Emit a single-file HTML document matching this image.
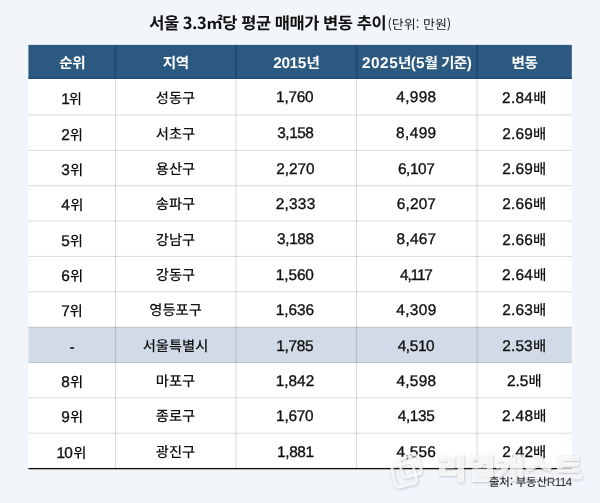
<!DOCTYPE html>
<html lang="ko"><head><meta charset="utf-8"><title>서울 3.3㎡당 평균 매매가 변동 추이</title>
<style>
html,body{margin:0;padding:0;}
body{text-rendering:geometricPrecision;width:600px;height:503px;background:#f2f5fa;position:relative;overflow:hidden;font-family:"Liberation Sans","Noto Sans CJK KR",sans-serif;color:#111;}
.abs{position:absolute;}
.tb{left:149.2px;top:8px;height:28px;line-height:28px;white-space:nowrap;font-family:"Noto Sans CJK KR","Liberation Sans",sans-serif;font-size:16.5px;font-weight:700;letter-spacing:-0.46px;color:#111;}
.tu{left:387.5px;top:10.3px;height:28px;line-height:28px;white-space:nowrap;font-family:"Noto Sans CJK KR","Liberation Sans",sans-serif;font-size:13px;letter-spacing:-0.02px;color:#222;}
.cell{text-align:center;white-space:nowrap;font-family:"Noto Sans CJK KR","Liberation Sans",sans-serif;}
.n{font-family:"Liberation Sans",sans-serif;}

.h{color:#fff;font-weight:700;font-size:14.6px;letter-spacing:-0.55px;}
.h .n{font-size:15.4px;letter-spacing:0;}
.d{color:#111;font-size:14.3px;letter-spacing:0px;font-weight:500;}
.d .n{font-size:15.4px;letter-spacing:0;font-weight:400;-webkit-text-stroke:0.35px #111;}
#ft .n{font-size:12px;letter-spacing:-0.8px;}
.hl{background:#d1dbe9;}
.hline{height:1px;background:#dcdcdc;}
.vline{width:1px;background:#e2e2e2;}
</style></head><body>

<div class="abs tb" id="tb">서울 3.3㎡당 평균 매매가 변동 추이</div><div class="abs tu" id="tu">(단위: 만원)</div>
<svg class="abs" width="600" height="503" viewBox="0 0 600 503" style="left:0;top:0"><rect x="28.4" y="44.9" width="543.40" height="423.70" fill="#fff"/><rect x="28.4" y="44.9" width="543.40" height="34.10" fill="#2c597f"/><rect x="28.4" y="77.40" width="543.40" height="1.6" fill="#214d75"/><rect x="28.4" y="327.16" width="543.40" height="35.36" fill="#d1dbe8"/><rect x="28.4" y="114.50" width="543.40" height="1" fill="#000" fill-opacity="0.14"/><rect x="28.4" y="149.86" width="543.40" height="1" fill="#000" fill-opacity="0.14"/><rect x="28.4" y="185.22" width="543.40" height="1" fill="#000" fill-opacity="0.14"/><rect x="28.4" y="220.58" width="543.40" height="1" fill="#000" fill-opacity="0.14"/><rect x="28.4" y="255.94" width="543.40" height="1" fill="#000" fill-opacity="0.14"/><rect x="28.4" y="291.30" width="543.40" height="1" fill="#000" fill-opacity="0.14"/><rect x="28.4" y="326.66" width="543.40" height="1" fill="#000" fill-opacity="0.16"/><rect x="28.4" y="362.02" width="543.40" height="1" fill="#000" fill-opacity="0.16"/><rect x="28.4" y="397.38" width="543.40" height="1" fill="#000" fill-opacity="0.14"/><rect x="28.4" y="432.74" width="543.40" height="1" fill="#000" fill-opacity="0.14"/><rect x="114.90" y="79.00" width="1.2" height="389.60" fill="#000" fill-opacity="0.13"/><rect x="114.60" y="44.9" width="1.8" height="34.10" fill="#1f4a72"/><rect x="235.40" y="79.00" width="1.2" height="389.60" fill="#000" fill-opacity="0.13"/><rect x="235.10" y="44.9" width="1.8" height="34.10" fill="#1f4a72"/><rect x="355.90" y="79.00" width="1.2" height="389.60" fill="#000" fill-opacity="0.13"/><rect x="355.60" y="44.9" width="1.8" height="34.10" fill="#1f4a72"/><rect x="476.60" y="79.00" width="1.2" height="389.60" fill="#000" fill-opacity="0.13"/><rect x="476.30" y="44.9" width="1.8" height="34.10" fill="#1f4a72"/><rect x="28.4" y="467.95" width="543.40" height="1.35" fill="#111"/></svg>
<div class="abs cell h" style="left:28.70px;top:45.90px;width:87.1px;height:34.10px;line-height:34.10px">순위</div>
<div class="abs cell h" style="left:115.50px;top:45.90px;width:120.5px;height:34.10px;line-height:34.10px">지역</div>
<div class="abs cell h" style="left:236.00px;top:45.90px;width:120.5px;height:34.10px;line-height:34.10px"><span class="n" style="letter-spacing:-0.33px;margin:0 0.53px 0 0.16px">2015</span>년</div>
<div class="abs cell h" style="left:356.50px;top:45.90px;width:120.7px;height:34.10px;line-height:34.10px"><span class="n" style="letter-spacing:0.49px;margin:0 -0.29px 0 0.16px">2025</span>년<span class="n">(5</span>월 기준<span class="n">)</span></div>
<div class="abs cell h" style="left:477.20px;top:45.90px;width:94.6px;height:34.10px;line-height:34.10px">변동</div>
<div class="abs cell d" style="left:28.50px;top:80.50px;width:87.1px;height:36.00px;line-height:36.00px"><span class="n" style="letter-spacing:0.00px;margin:0 -1.14px 0 -1.14px">1</span>위</div>
<div class="abs cell d" style="left:115.30px;top:79.50px;width:120.5px;height:36.00px;line-height:36.00px">성동구</div>
<div class="abs cell d" style="left:235.30px;top:79.40px;width:120.5px;height:36.00px;line-height:36.00px"><span class="n" style="letter-spacing:-0.26px;margin:0 0.57px 0 -1.14px">1,760</span></div>
<div class="abs cell d" style="left:355.80px;top:79.40px;width:120.7px;height:36.00px;line-height:36.00px"><span class="n" style="letter-spacing:0.33px;margin:0 -0.12px 0 0.41px">4,998</span></div>
<div class="abs cell d" style="left:476.90px;top:79.60px;width:94.6px;height:36.00px;line-height:36.00px"><span class="n" style="letter-spacing:0.24px;margin:0 0.17px 0 0.07px">2.84</span>배</div>
<div class="abs cell d" style="left:28.50px;top:116.50px;width:87.1px;height:35.36px;line-height:35.36px"><span class="n" style="letter-spacing:0.00px;margin:0 0.07px 0 0.07px">2</span>위</div>
<div class="abs cell d" style="left:115.30px;top:115.50px;width:120.5px;height:35.36px;line-height:35.36px">서초구</div>
<div class="abs cell d" style="left:235.30px;top:115.40px;width:120.5px;height:35.36px;line-height:35.36px"><span class="n" style="letter-spacing:-0.45px;margin:0 0.66px 0 0.24px">3,158</span></div>
<div class="abs cell d" style="left:355.80px;top:115.40px;width:120.7px;height:35.36px;line-height:35.36px"><span class="n" style="letter-spacing:0.38px;margin:0 -0.16px 0 0.21px">8,499</span></div>
<div class="abs cell d" style="left:476.90px;top:115.60px;width:94.6px;height:35.36px;line-height:35.36px"><span class="n" style="letter-spacing:0.18px;margin:0 0.04px 0 0.07px">2.69</span>배</div>
<div class="abs cell d" style="left:28.50px;top:151.86px;width:87.1px;height:35.36px;line-height:35.36px"><span class="n" style="letter-spacing:0.00px;margin:0 0.24px 0 0.24px">3</span>위</div>
<div class="abs cell d" style="left:115.30px;top:150.86px;width:120.5px;height:35.36px;line-height:35.36px">용산구</div>
<div class="abs cell d" style="left:235.30px;top:150.76px;width:120.5px;height:35.36px;line-height:35.36px"><span class="n" style="letter-spacing:-0.03px;margin:0 0.34px 0 0.07px">2,270</span></div>
<div class="abs cell d" style="left:355.80px;top:150.76px;width:120.7px;height:35.36px;line-height:35.36px"><span class="n" style="letter-spacing:-0.46px;margin:0 0.24px 0 0.22px">6,107</span></div>
<div class="abs cell d" style="left:476.90px;top:150.96px;width:94.6px;height:35.36px;line-height:35.36px"><span class="n" style="letter-spacing:0.18px;margin:0 0.04px 0 0.07px">2.69</span>배</div>
<div class="abs cell d" style="left:28.50px;top:187.22px;width:87.1px;height:35.36px;line-height:35.36px"><span class="n" style="letter-spacing:0.00px;margin:0 0.41px 0 0.41px">4</span>위</div>
<div class="abs cell d" style="left:115.30px;top:186.22px;width:120.5px;height:35.36px;line-height:35.36px">송파구</div>
<div class="abs cell d" style="left:235.30px;top:186.12px;width:120.5px;height:35.36px;line-height:35.36px"><span class="n" style="letter-spacing:0.27px;margin:0 -0.03px 0 0.07px">2,333</span></div>
<div class="abs cell d" style="left:355.80px;top:186.12px;width:120.7px;height:35.36px;line-height:35.36px"><span class="n" style="letter-spacing:0.14px;margin:0 -0.37px 0 0.22px">6,207</span></div>
<div class="abs cell d" style="left:476.90px;top:186.32px;width:94.6px;height:35.36px;line-height:35.36px"><span class="n" style="letter-spacing:0.18px;margin:0 0.04px 0 0.07px">2.66</span>배</div>
<div class="abs cell d" style="left:28.50px;top:222.58px;width:87.1px;height:35.36px;line-height:35.36px"><span class="n" style="letter-spacing:0.00px;margin:0 0.11px 0 0.11px">5</span>위</div>
<div class="abs cell d" style="left:115.30px;top:221.58px;width:120.5px;height:35.36px;line-height:35.36px">강남구</div>
<div class="abs cell d" style="left:235.30px;top:221.48px;width:120.5px;height:35.36px;line-height:35.36px"><span class="n" style="letter-spacing:-0.40px;margin:0 0.61px 0 0.24px">3,188</span></div>
<div class="abs cell d" style="left:355.80px;top:221.48px;width:120.7px;height:35.36px;line-height:35.36px"><span class="n" style="letter-spacing:0.26px;margin:0 -0.49px 0 0.21px">8,467</span></div>
<div class="abs cell d" style="left:476.90px;top:221.68px;width:94.6px;height:35.36px;line-height:35.36px"><span class="n" style="letter-spacing:0.18px;margin:0 0.04px 0 0.07px">2.66</span>배</div>
<div class="abs cell d" style="left:28.50px;top:257.94px;width:87.1px;height:35.36px;line-height:35.36px"><span class="n" style="letter-spacing:0.00px;margin:0 0.22px 0 0.22px">6</span>위</div>
<div class="abs cell d" style="left:115.30px;top:256.94px;width:120.5px;height:35.36px;line-height:35.36px">강동구</div>
<div class="abs cell d" style="left:235.30px;top:256.84px;width:120.5px;height:35.36px;line-height:35.36px"><span class="n" style="letter-spacing:-0.09px;margin:0 0.40px 0 -1.14px">1,560</span></div>
<div class="abs cell d" style="left:355.80px;top:256.84px;width:120.7px;height:35.36px;line-height:35.36px"><span class="n" style="letter-spacing:-1.14px;margin:0 0.91px 0 0.41px">4,117</span></div>
<div class="abs cell d" style="left:476.90px;top:257.04px;width:94.6px;height:35.36px;line-height:35.36px"><span class="n" style="letter-spacing:0.24px;margin:0 0.17px 0 0.07px">2.64</span>배</div>
<div class="abs cell d" style="left:28.50px;top:293.30px;width:87.1px;height:35.36px;line-height:35.36px"><span class="n" style="letter-spacing:0.00px;margin:0 -0.23px 0 -0.23px">7</span>위</div>
<div class="abs cell d" style="left:115.30px;top:292.30px;width:120.5px;height:35.36px;line-height:35.36px">영등포구</div>
<div class="abs cell d" style="left:235.30px;top:292.20px;width:120.5px;height:35.36px;line-height:35.36px"><span class="n" style="letter-spacing:-0.04px;margin:0 0.27px 0 -1.14px">1,636</span></div>
<div class="abs cell d" style="left:355.80px;top:292.20px;width:120.7px;height:35.36px;line-height:35.36px"><span class="n" style="letter-spacing:0.39px;margin:0 -0.16px 0 0.41px">4,309</span></div>
<div class="abs cell d" style="left:476.90px;top:292.40px;width:94.6px;height:35.36px;line-height:35.36px"><span class="n" style="letter-spacing:0.19px;margin:0 0.06px 0 0.07px">2.63</span>배</div>
<div class="abs cell d" style="left:28.50px;top:328.66px;width:87.1px;height:35.36px;line-height:35.36px"><span class="n">-</span></div>
<div class="abs cell d" style="left:115.30px;top:327.66px;width:120.5px;height:35.36px;line-height:35.36px">서울특별시</div>
<div class="abs cell d" style="left:235.30px;top:327.56px;width:120.5px;height:35.36px;line-height:35.36px"><span class="n" style="letter-spacing:-0.31px;margin:0 0.42px 0 -1.14px">1,785</span></div>
<div class="abs cell d" style="left:355.80px;top:327.56px;width:120.7px;height:35.36px;line-height:35.36px"><span class="n" style="letter-spacing:-0.38px;margin:0 0.69px 0 0.41px">4,510</span></div>
<div class="abs cell d" style="left:476.90px;top:327.76px;width:94.6px;height:35.36px;line-height:35.36px"><span class="n" style="letter-spacing:0.12px;margin:0 0.13px 0 0.07px">2.53</span>배</div>
<div class="abs cell d" style="left:28.50px;top:364.02px;width:87.1px;height:35.36px;line-height:35.36px"><span class="n" style="letter-spacing:0.00px;margin:0 0.21px 0 0.21px">8</span>위</div>
<div class="abs cell d" style="left:115.30px;top:363.02px;width:120.5px;height:35.36px;line-height:35.36px">마포구</div>
<div class="abs cell d" style="left:235.30px;top:362.92px;width:120.5px;height:35.36px;line-height:35.36px"><span class="n" style="letter-spacing:-0.00px;margin:0 0.07px 0 -1.14px">1,842</span></div>
<div class="abs cell d" style="left:355.80px;top:362.92px;width:120.7px;height:35.36px;line-height:35.36px"><span class="n" style="letter-spacing:0.28px;margin:0 -0.06px 0 0.41px">4,598</span></div>
<div class="abs cell d" style="left:476.90px;top:363.12px;width:94.6px;height:35.36px;line-height:35.36px"><span class="n" style="letter-spacing:-0.01px;margin:0 0.12px 0 0.07px">2.5</span>배</div>
<div class="abs cell d" style="left:28.50px;top:399.38px;width:87.1px;height:35.36px;line-height:35.36px"><span class="n" style="letter-spacing:0.00px;margin:0 0.22px 0 0.22px">9</span>위</div>
<div class="abs cell d" style="left:115.30px;top:398.38px;width:120.5px;height:35.36px;line-height:35.36px">종로구</div>
<div class="abs cell d" style="left:235.30px;top:398.28px;width:120.5px;height:35.36px;line-height:35.36px"><span class="n" style="letter-spacing:-0.26px;margin:0 0.57px 0 -1.14px">1,670</span></div>
<div class="abs cell d" style="left:355.80px;top:398.28px;width:120.7px;height:35.36px;line-height:35.36px"><span class="n" style="letter-spacing:-0.36px;margin:0 0.48px 0 0.41px">4,135</span></div>
<div class="abs cell d" style="left:476.90px;top:398.48px;width:94.6px;height:35.36px;line-height:35.36px"><span class="n" style="letter-spacing:0.30px;margin:0 -0.09px 0 0.07px">2.48</span>배</div>
<div class="abs cell d" style="left:28.50px;top:434.74px;width:87.1px;height:35.36px;line-height:35.36px"><span class="n" style="letter-spacing:-0.83px;margin:0 1.14px 0 -1.14px">10</span>위</div>
<div class="abs cell d" style="left:115.30px;top:433.74px;width:120.5px;height:35.36px;line-height:35.36px">광진구</div>
<div class="abs cell d" style="left:235.30px;top:433.64px;width:120.5px;height:35.36px;line-height:35.36px"><span class="n" style="letter-spacing:-0.40px;margin:0 -0.74px 0 -1.14px">1,881</span></div>
<div class="abs cell d" style="left:355.80px;top:433.64px;width:120.7px;height:35.36px;line-height:35.36px"><span class="n" style="letter-spacing:0.22px;margin:0 -0.00px 0 0.41px">4,556</span></div>
<div class="abs cell d" style="left:476.90px;top:433.84px;width:94.6px;height:35.36px;line-height:35.36px"><span class="n" style="letter-spacing:0.26px;margin:0 -0.19px 0 0.07px">2.42</span>배</div>
<svg class="abs" id="wm" width="220" height="60" viewBox="0 0 220 60" style="left:380px;top:440px;overflow:visible">
<defs><filter id="sh" x="-10%" y="-20%" width="120%" height="140%"><feDropShadow dx="0.5" dy="0.7" stdDeviation="0.9" flood-color="#4a5460" flood-opacity="0.5"/></filter></defs>
<g filter="url(#sh)">
<g fill="none" stroke="#fff" stroke-opacity="0.72" stroke-width="2.8" transform="rotate(-14 27.6 29.5)"><rect x="12.3" y="23.2" width="21.5" height="21.5" rx="3.5"/><rect x="21.3" y="17.2" width="19.5" height="19.5" rx="3.5"/></g>
<text id="wmt" transform="translate(57,38.6) scale(1,0.89)" font-family="'Noto Sans CJK KR','Liberation Sans',sans-serif" font-weight="900" font-size="32" fill="#fff" stroke="#fff" stroke-width="1" stroke-linejoin="round" opacity="0.74" letter-spacing="-0.4">리얼캐스트</text>
</g></svg>
<div class="abs" id="ft" style="left:440px;top:474.3px;width:131.4px;height:16px;line-height:16px;text-align:right;font-size:11.5px;letter-spacing:-0.25px;color:#333;font-weight:500;font-family:'Noto Sans CJK KR','Liberation Sans',sans-serif;white-space:nowrap">출처: 부동산<span class="n">R114</span></div>
</body></html>
